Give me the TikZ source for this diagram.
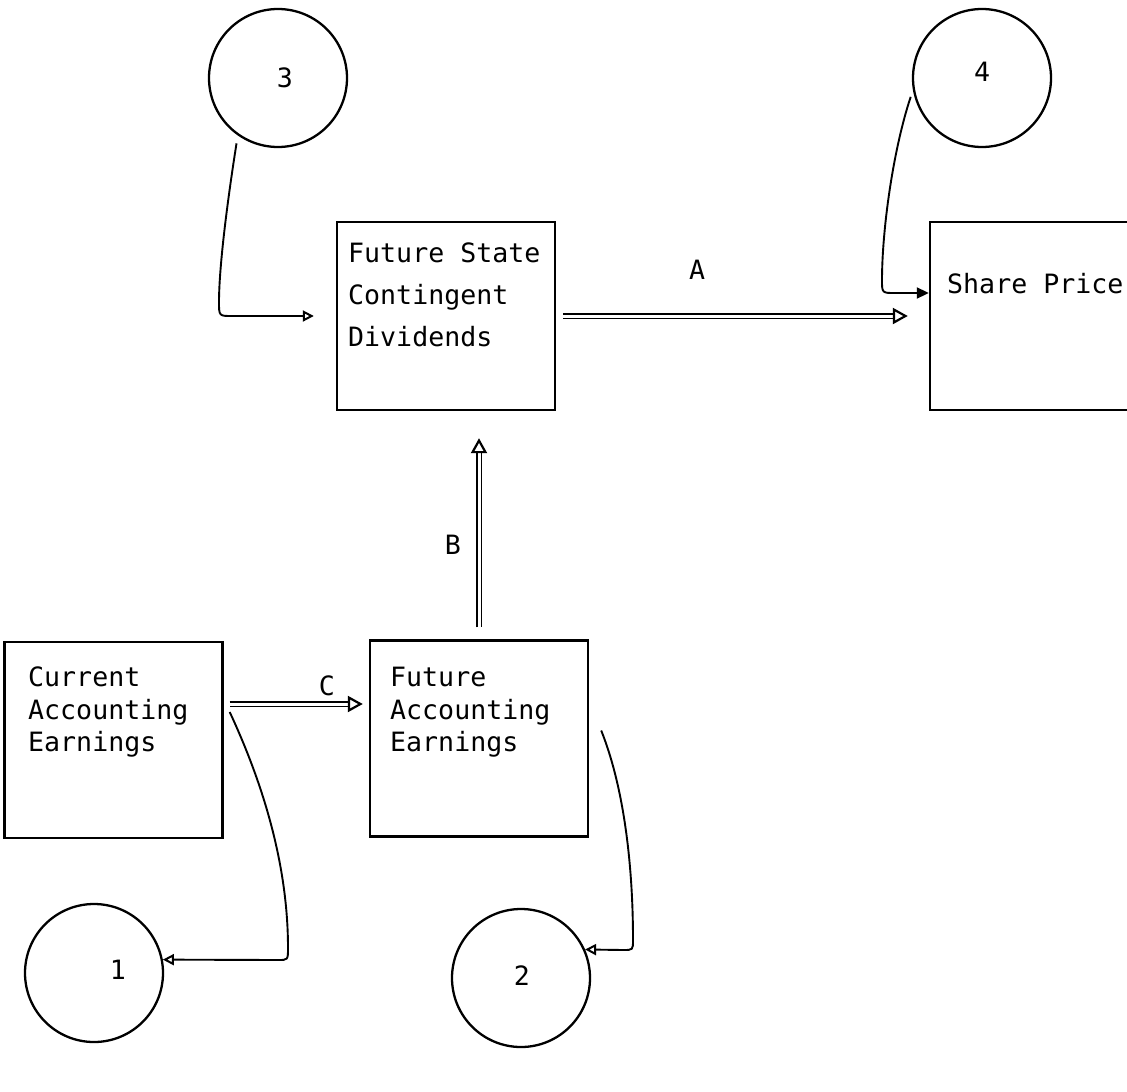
\documentclass[tikz,border=0pt]{standalone}
\usepackage{fontspec}
\newfontfamily\mono{DejaVu Sans Mono}
\usetikzlibrary{arrows.meta,calc}
\begin{document}
\begin{tikzpicture}[x=1pt,y=-1pt,
  box/.style={draw, line width=2.4pt, minimum width=218pt, inner sep=0pt},
  circ/.style={draw, circle, line width=2.3pt, minimum size=138pt, inner sep=0pt},
  txt/.style={font=\mono\fontsize{26.6}{42}\selectfont, align=left, anchor=north west, inner sep=0pt},
  txtb/.style={font=\mono\fontsize{26.6}{32.5}\selectfont, align=left, anchor=north west, inner sep=0pt},
  lbl/.style={font=\mono\fontsize{26.6}{30}\selectfont, inner sep=0pt},
  dbl/.style={double, double distance=3pt, line width=1.7pt,
    -{Triangle[open, length=15pt, width=16pt, line width=2.2pt]}},
  conn/.style={line width=1.9pt},
  opentip/.style={-{Triangle[open, length=11pt, width=11pt, line width=2pt]}},
  filltip/.style={-{Triangle[length=12pt, width=11pt]}}
]
\useasboundingbox (0,0) rectangle (1127,1092);
\path[clip] (0,0) rectangle (1127,1092);
\fill[white] (0,0) rectangle (1127,1092);

% boxes
\node[box, minimum height=188pt] (fscd) at (446,316) {};
\node[box, minimum width=222pt, minimum height=188pt] (sp) at (1041,316) {};
\node[box, minimum height=196pt] (cae) at (113.5,740) {};
\node[box, minimum height=196pt] (fae) at (479,738.5) {};

% box texts
\node[txt] (t1) at (348,243) {Future State\\Contingent\\Dividends};
\node[txt] (t2) at (947,273) {Share Price};
\node[txtb] (t3) at (28,667) {Current\\Accounting\\Earnings};
\node[txtb] (t4) at (390,667) {Future\\Accounting\\Earnings};

% circles
\node[circ] (c3) at (278,78) {};
\node[circ] (c4) at (982,78) {};
\node[circ] (c1) at (94,973) {};
\node[circ] (c2) at (521,978) {};
\node[lbl] (n3) at (285,78) {3};
\node[lbl] (n4) at (982,72) {4};
\node[lbl] (n1) at (118,970) {1};
\node[lbl] (n2) at (522,976) {2};

% double arrows
\draw[dbl, shorten <=7pt, shorten >=21pt] (fscd.east) -- (sp.west);
\draw[dbl, shorten <=12pt, shorten >=27pt] (fae.north) -- (fae.north |- fscd.south);
\draw[dbl, shorten <=6pt, shorten >=6pt] ([yshift=36pt]cae.east) -- ([yshift=36pt]cae.east -| fae.west);
\node[lbl] (la) at (697,270) {A};
\node[lbl] (lb) at (453,545) {B};
\node[lbl] (lc) at (327,686) {C};

% curved connectors
\draw[conn, opentip, shorten <=8pt, shorten >=22pt] (c3.235) .. controls (226,210) and (219,270) .. (219,302)
  .. controls (219,316) .. (232,316) -- (fscd.west);
\draw[conn, filltip, shorten <=7pt] (c4.190) .. controls (893,150) and (882,230) .. (882,280)
  .. controls (882,293) .. (895,293) -- ([yshift=23pt]sp.west);
\draw[conn, opentip] ([xshift=6pt,yshift=28pt]cae.east) .. controls (266,790) and (288,870) .. (288,948)
  .. controls (288,960) .. (278,960) -- (c1.11);
\draw[conn, opentip] ([xshift=12pt,yshift=8pt]fae.east) .. controls (625,790) and (633,870) .. (633,940)
  .. controls (633,950) .. (623,950) -- (c2.24);
\end{tikzpicture}
\end{document}
